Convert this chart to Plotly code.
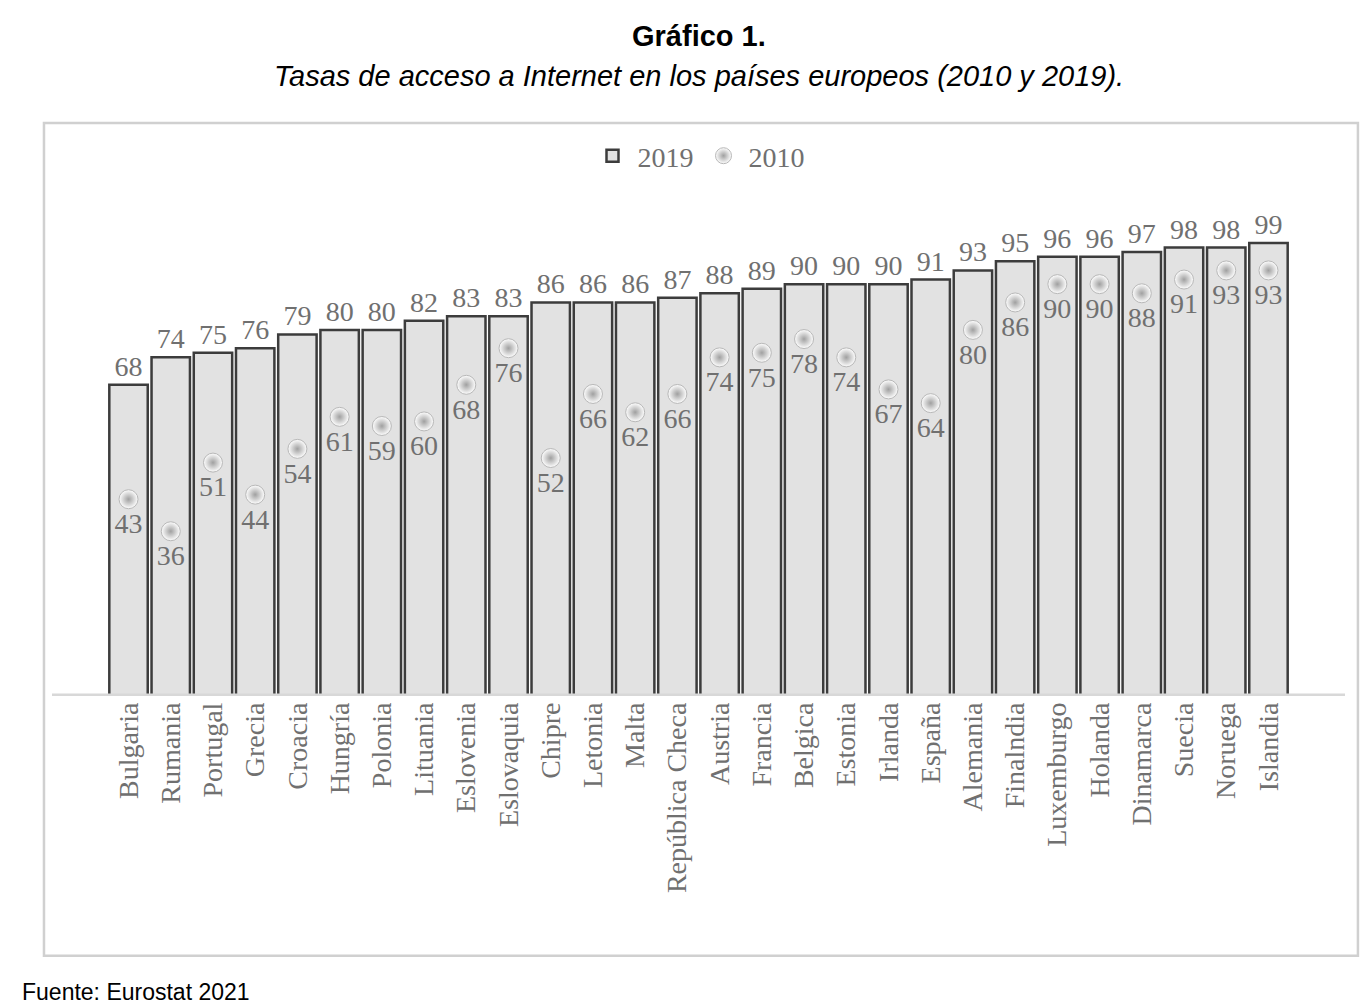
import plotly.graph_objects as go

paises = ["Bulgaria", "Rumania", "Portugal", "Grecia", "Croacia", "Hungría", "Polonia",
          "Lituania", "Eslovenia", "Eslovaquia", "Chipre", "Letonia", "Malta",
          "República Checa", "Austria", "Francia", "Belgica", "Estonia", "Irlanda",
          "España", "Alemania", "Finalndia", "Luxemburgo", "Holanda", "Dinamarca",
          "Suecia", "Noruega", "Islandia"]
v2019 = [68, 74, 75, 76, 79, 80, 80, 82, 83, 83, 86, 86, 86, 87, 88, 89, 90, 90, 90,
         91, 93, 95, 96, 96, 97, 98, 98, 99]
v2010 = [43, 36, 51, 44, 54, 61, 59, 60, 68, 76, 52, 66, 62, 66, 74, 75, 78, 74, 67,
         64, 80, 86, 90, 90, 88, 91, 93, 93]

serif = "Liberation Serif"
gris = "#707070"

fig = go.Figure()
fig.add_trace(go.Bar(
    x=paises, y=v2019, name="2019",
    marker=dict(color="#e2e2e2", line=dict(color="#3c3c3c", width=2.5)),
    text=v2019, textposition="outside", cliponaxis=False,
    textfont=dict(family=serif, size=28, color=gris),
))
fig.add_trace(go.Scatter(
    x=paises, y=v2010, name="2010", mode="markers+text",
    marker=dict(size=19, color="#ffffff",
                gradient=dict(type="radial", color="#a0a0a0"),
                line=dict(color="#b8b8b8", width=1)),
    text=v2010, textposition="bottom center",
    textfont=dict(family=serif, size=28, color=gris),
))

fig.update_layout(
    width=1371, height=1005,
    paper_bgcolor="white", plot_bgcolor="white",
    margin=dict(l=44, r=34, t=148, b=317, autoexpand=False),
    bargap=0.09,
    showlegend=True,
    legend=dict(orientation="h", x=0.5, xanchor="center", y=1.0, yanchor="middle",
                font=dict(family=serif, size=28, color=gris), itemwidth=40,
                bgcolor="rgba(0,0,0,0)"),
    xaxis=dict(tickangle=-90, tickfont=dict(family=serif, size=28, color=gris),
               showline=False, ticks="", automargin=False),
    yaxis=dict(range=[0, 118], visible=False, automargin=False),
    shapes=[
        dict(type="rect", xref="paper", yref="paper", x0=-0.0062, x1=1.010,
             y0=-0.481, y1=1.061, line=dict(color="#d0d0d0", width=2.5)),
        dict(type="line", xref="paper", yref="y", x0=0, x1=1, y0=0, y1=0,
             line=dict(color="#d8d8d8", width=5)),
    ],
    annotations=[
        dict(text="<b>Gráfico 1.</b>", xref="paper", yref="paper", x=0.5, y=1.0 + 120 / 540,
             yanchor="middle", showarrow=False,
             font=dict(family="Liberation Sans", size=29, color="black")),
        dict(text="<i>Tasas de acceso a Internet en los países europeos (2010 y 2019).</i>",
             xref="paper", yref="paper", x=0.5, y=1.0 + 80 / 540, yanchor="middle",
             showarrow=False, font=dict(family="Liberation Sans", size=29, color="black")),
        dict(text="Fuente: Eurostat 2021", xref="paper", yref="paper",
             x=-32 / 1293, xanchor="left", y=-(984 - 688) / 540, yanchor="middle",
             showarrow=False, font=dict(family="Liberation Sans", size=23, color="black")),
    ],
)

fig.write_html("out.html")
